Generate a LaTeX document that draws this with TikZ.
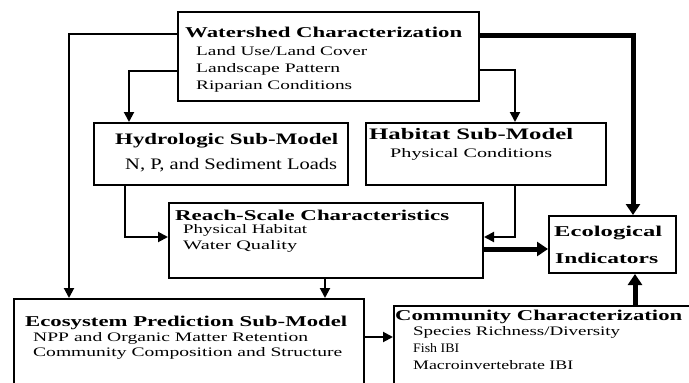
\documentclass[tikz,border=0pt]{standalone}
\usepackage{fontspec}
\setmainfont{Liberation Serif}
\usepackage{graphicx}
\usetikzlibrary{arrows.meta}
% stretch a line of text to a given width, height kept
\newcommand{\wideto}[2]{\resizebox{#1}{\height}{#2}}
\tikzset{modelbox/.style={
    % The shape:
    rectangle,
    inner sep=0pt,
    anchor=north west,
    % The border:
    line width=2pt,
    draw=black,
    },
    boxtitle/.style={
    anchor=base west,
    inner sep=0pt,
    font=\fontsize{15}{18}\selectfont\bfseries,
    },
    boxitem/.style={
    anchor=base west,
    inner sep=0pt,
    font=\fontsize{13}{16}\selectfont,
    },
    link/.style={line width=2pt,-{Triangle[length=10pt,width=10pt]}},
    strong/.style={line width=5pt,-{Triangle[length=11pt,width=14pt]}},
}

\begin{document}
\begin{tikzpicture}[x=1pt,y=-1pt]
    \clip (0,0) rectangle (689,383);

    % boxes
    \node (ws) [modelbox,minimum width=301pt,minimum height=89pt]  at (177,11)  {};
    \node (hy) [modelbox,minimum width=254pt,minimum height=62pt]  at (93,122)  {};
    \node (ha) [modelbox,minimum width=240pt,minimum height=62pt]  at (365,122) {};
    \node (rs) [modelbox,minimum width=314pt,minimum height=75pt]  at (168,202) {};
    \node (ei) [modelbox,minimum width=127pt,minimum height=57pt]  at (548,215) {};
    \node (ep) [modelbox,minimum width=350pt,minimum height=120pt] at (13,298)  {};
    \node (cc) [modelbox,minimum width=330pt,minimum height=120pt] at (393,305) {};

    % texts
    \node (ws-t) [boxtitle] at (185,37) {\wideto{277pt}{Watershed Characterization}};
    \node (ws-1) [boxitem]  at (196,55) {\wideto{171pt}{Land Use/Land Cover}};
    \node (ws-2) [boxitem]  at (196,72) {\wideto{144pt}{Landscape Pattern}};
    \node (ws-3) [boxitem]  at (196,89) {\wideto{156pt}{Riparian Conditions}};

    \node (hy-t) [boxtitle,font=\fontsize{16}{19}\selectfont\bfseries] at (115,144) {\wideto{223pt}{Hydrologic Sub-Model}};
    \node (hy-1) [boxitem,font=\fontsize{16}{19}\selectfont]  at (125,169) {\wideto{212pt}{N, P, and Sediment Loads}};

    \node (ha-t) [boxtitle,font=\fontsize{16}{19}\selectfont\bfseries] at (369,139) {\wideto{204pt}{Habitat Sub-Model}};
    \node (ha-1) [boxitem]  at (390,157) {\wideto{162pt}{Physical Conditions}};

    \node (rs-t) [boxtitle] at (175,220) {\wideto{274pt}{Reach-Scale Characteristics}};
    \node (rs-1) [boxitem]  at (183,233) {\wideto{124pt}{Physical Habitat}};
    \node (rs-2) [boxitem]  at (183,249) {\wideto{114pt}{Water Quality}};

    \node (ei-t) [boxtitle] at (554,236) {\wideto{108pt}{Ecological}};
    \node (ei-1) [boxtitle] at (555,263) {\wideto{103pt}{Indicators}};

    \node (ep-t) [boxtitle] at (25,326)  {\wideto{322pt}{Ecosystem Prediction Sub-Model}};
    \node (ep-1) [boxitem]  at (33,341)  {\wideto{275pt}{NPP and Organic Matter Retention}};
    \node (ep-2) [boxitem]  at (33,356)  {\wideto{309pt}{Community Composition and Structure}};

    \node (cc-t) [boxtitle] at (395,320) {\wideto{287pt}{Community Characterization}};
    \node (cc-1) [boxitem]  at (413,335) {\wideto{207pt}{Species Richness/Diversity}};
    \node (cc-2) [boxitem]  at (413,352) {\wideto{46pt}{Fish IBI}};
    \node (cc-3) [boxitem]  at (413,369) {\wideto{160pt}{Macroinvertebrate IBI}};

    % connectors
    \draw[link] (ws.west |- 0,34) -- (69,34) -- (ep.north -| 69,0);
    \draw[link] (ws.west |- 0,71) -- (129,71) -- (hy.north -| 129,0);
    \draw[link] (ws.east |- 0,70) -- (515,70) -- (ha.north -| 515,0);
    \draw[strong] (ws.east |- 0,35) -- (633,35) -- (ei.north -| 633,0);
    \draw[link] (hy.south -| 125,0) -- (125,237) -- (rs.west |- 0,237);
    \draw[link] (ha.south -| 515,0) -- (515,237) -- (rs.east |- 0,237);
    \draw[strong] (rs.east |- 0,249) -- (ei.west |- 0,249);
    \draw[link] (rs.south -| 325,0) -- (ep.north -| 325,0);
    \draw[link] (ep.east |- 0,337) -- (cc.west |- 0,337);
    \draw[strong] (cc.north -| 635,0) -- (ei.south -| 635,0);
\end{tikzpicture}
\end{document}
